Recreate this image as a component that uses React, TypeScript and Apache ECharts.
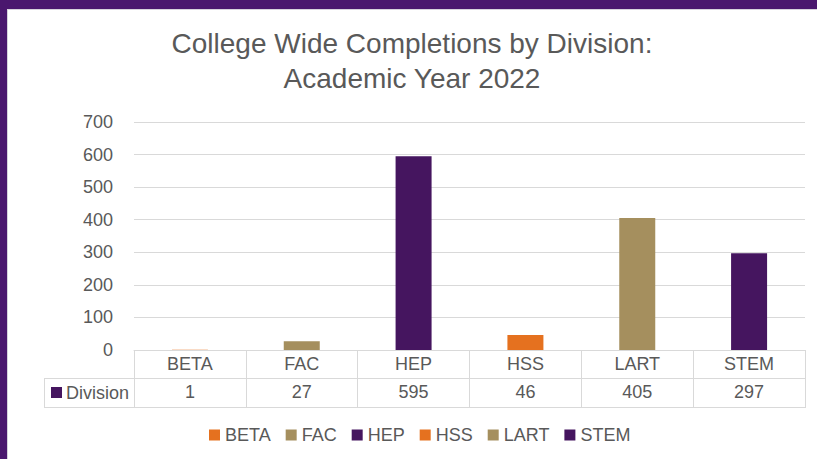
import React, { useEffect, useRef } from "react";
import * as echarts from "echarts";

const categories = ["BETA", "FAC", "HEP", "HSS", "LART", "STEM"];
const values = [1, 27, 595, 46, 405, 297];
const colors = ["#E5711F", "#A58F5E", "#45155F", "#E5711F", "#A58F5E", "#45155F"];
const yTicks = { min: 0, max: 700, interval: 100 };
const rowLabel = "Division";

const FONT = "'Liberation Sans', Arial, sans-serif";
const TEXT = "#595959";
const LINE = "#D9D9D9";

export default function App() {
  const ref = useRef<HTMLDivElement>(null);
  useEffect(() => {
    if (!ref.current) return;
    const chart = echarts.init(ref.current, null, { renderer: "svg" });
    const gridLeft = 134;
    const gridRight = 12;
    const gridTop = 122;
    const gridBottom = 109;
    const W = 817;
    const H = 459;
    const axisY = H - gridBottom;
    const row1 = axisY + 28;
    const row2 = axisY + 57;
    const tableLeft = 44;
    const tableRight = W - gridRight;

    const series = categories.map((c, i) => ({
      name: c,
      type: "bar",
      stack: "total",
      barWidth: 36,
      itemStyle: { color: colors[i] },
      data: categories.map((_, j) => (j === i ? values[i] : null)),
    }));

    chart.setOption({
      animation: false,
      textStyle: { fontFamily: FONT },
      title: {
        text: "College Wide Completions by Division:\nAcademic Year 2022",
        left: 412,
        textAlign: "center",
        top: 26,
        padding: 0,
        textStyle: {
          fontFamily: FONT,
          fontSize: 28,
          fontWeight: "normal",
          color: TEXT,
          lineHeight: 35,
        },
      },
      legend: {
        data: categories,
        left: 209,
        top: 426,
        padding: 0,
        icon: "rect",
        itemWidth: 11,
        itemHeight: 11,
        itemGap: 15,
        textStyle: { fontFamily: FONT, fontSize: 18, color: TEXT, padding: [0, 0, 0, 0] },
      },
      grid: { left: gridLeft, right: gridRight, top: gridTop, bottom: gridBottom },
      xAxis: [
        {
          type: "category",
          data: categories,
          axisLine: { show: true, lineStyle: { color: LINE, width: 1 } },
          axisTick: { show: true, length: 58, lineStyle: { color: LINE, width: 1 } },
          axisLabel: { margin: 5, fontSize: 18, color: TEXT, fontFamily: FONT },
        },
        {
          type: "category",
          data: values.map((v) => String(v)),
          position: "bottom",
          offset: 28,
          axisLine: { show: false },
          axisTick: { show: false },
          axisLabel: { margin: 5, fontSize: 18, color: TEXT, fontFamily: FONT },
        },
      ],
      yAxis: {
        type: "value",
        min: yTicks.min,
        max: yTicks.max,
        interval: yTicks.interval,
        axisLine: { show: false },
        axisTick: { show: false },
        splitLine: { lineStyle: { color: LINE, width: 1 } },
        axisLabel: { margin: 21, fontSize: 18, color: TEXT, fontFamily: FONT },
      },
      series,
      graphic: [
        { type: "rect", shape: { x: 0, y: 0, width: W, height: 9 }, style: { fill: "#4A176E" }, silent: true },
        { type: "rect", shape: { x: 0, y: 0, width: 7, height: H }, style: { fill: "#4A176E" }, silent: true },
        { type: "line", shape: { x1: 7, y1: 9.5, x2: W, y2: 9.5 }, style: { stroke: "#D6D2DC", lineWidth: 1 }, silent: true },
        { type: "line", shape: { x1: 7.5, y1: 9, x2: 7.5, y2: H }, style: { stroke: "#D6D2DC", lineWidth: 1 }, silent: true },
        { type: "line", shape: { x1: tableLeft, y1: row1 + 0.5, x2: tableRight, y2: row1 + 0.5 }, style: { stroke: LINE, lineWidth: 1 }, silent: true },
        { type: "line", shape: { x1: tableLeft, y1: row2 + 0.5, x2: tableRight, y2: row2 + 0.5 }, style: { stroke: LINE, lineWidth: 1 }, silent: true },
        { type: "line", shape: { x1: tableLeft + 0.5, y1: row1, x2: tableLeft + 0.5, y2: row2 + 1 }, style: { stroke: LINE, lineWidth: 1 }, silent: true },
        { type: "rect", shape: { x: 51, y: row1 + 9, width: 11, height: 11 }, style: { fill: colors[2] }, silent: true },
        {
          type: "text",
          x: 66,
          y: (row1 + row2) / 2 + 0.5,
          style: { text: rowLabel, fontSize: 18, fill: TEXT, fontFamily: FONT, verticalAlign: "middle", align: "left" },
          silent: true,
        },
      ],
    });
    return () => chart.dispose();
  }, []);
  return (
    <div
      ref={ref}
      style={{ position: "fixed", left: 0, top: 0, width: 817, height: 459, background: "#FFFFFF" }}
    />
  );
}
